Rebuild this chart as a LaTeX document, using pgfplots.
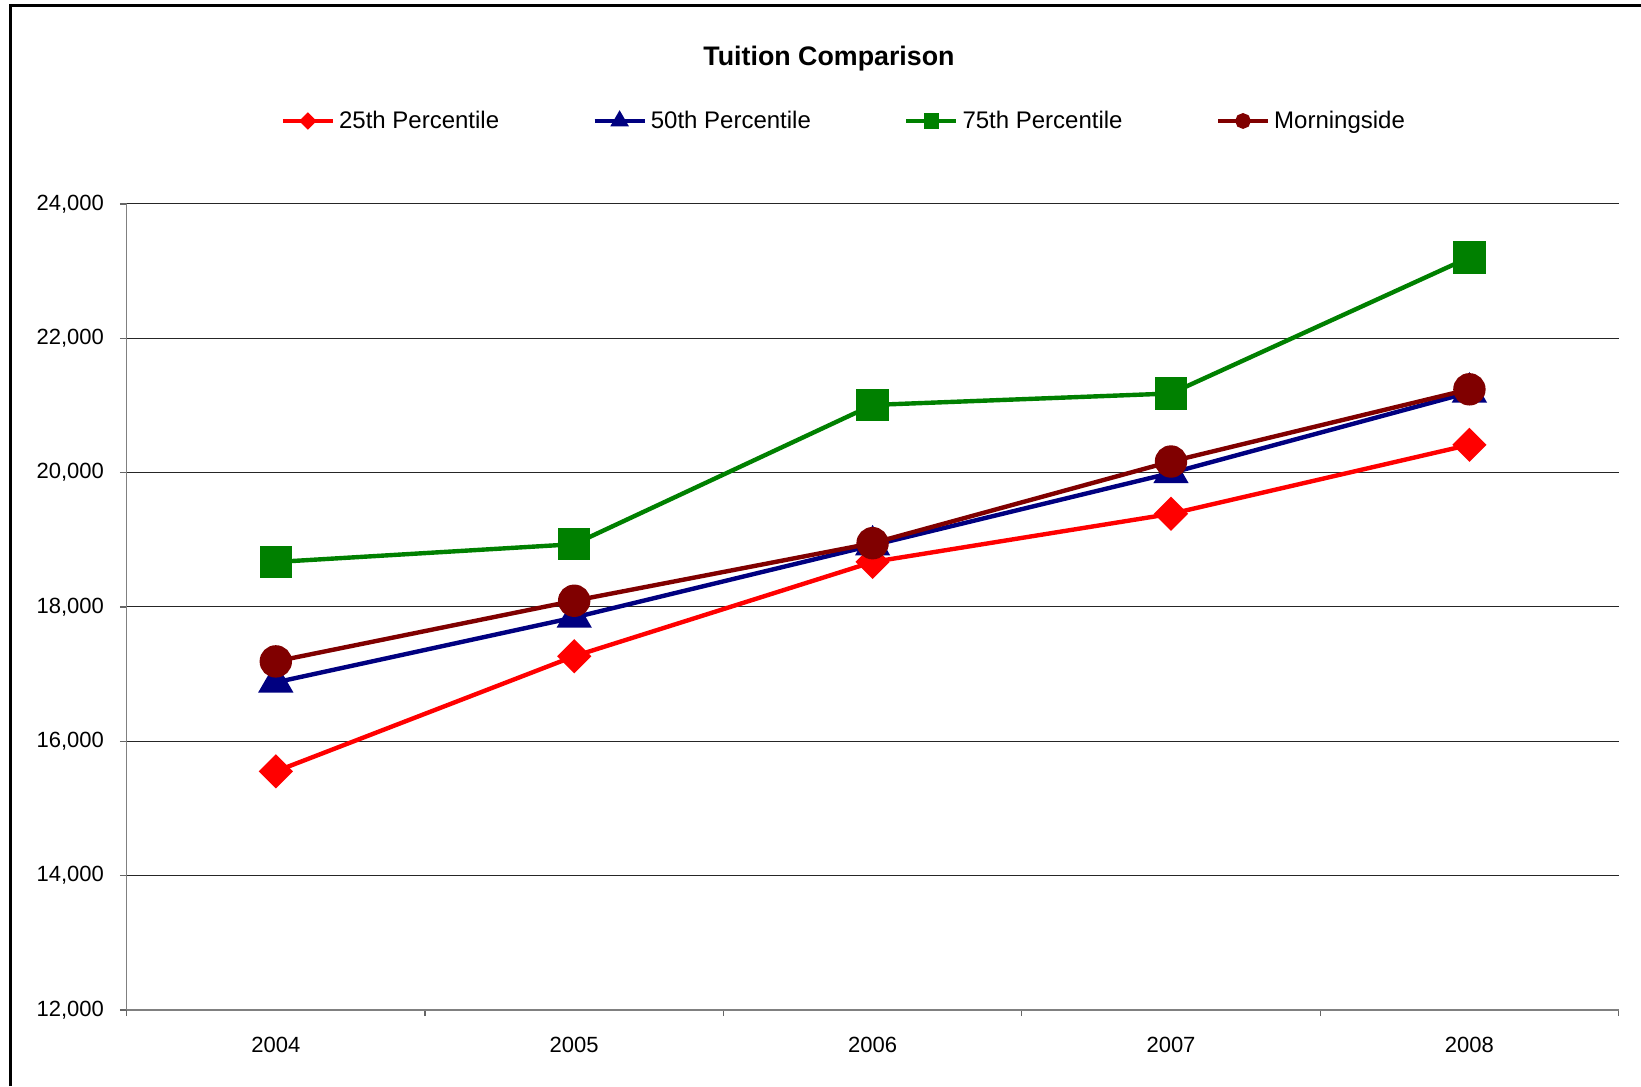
\documentclass[border=0pt]{standalone}
\usepackage{fontspec}
\setmainfont{Liberation Sans}
\usepackage{pgfplots}
\pgfplotsset{compat=1.18}
\definecolor{pRed}{RGB}{255,0,0}
\definecolor{pNavy}{RGB}{0,0,128}
\definecolor{pGreen}{RGB}{0,128,0}
\definecolor{pMaroon}{RGB}{128,0,0}
\begin{document}
\begin{tikzpicture}
\useasboundingbox (0,0) rectangle (820.5pt,543pt);
\draw[line width=1.5pt] (5pt,0) -- (5pt,540.3pt) -- (820.5pt,540.3pt);
\node[font=\bfseries\fontsize{13.4}{15}\selectfont] at (414.5pt,513.7pt) {Tuition Comparison};
\begin{axis}[
  at={(63.3pt,38pt)}, anchor=south west,
  scale only axis, width=746pt, height=403pt,
  xmin=-0.5, xmax=4.5, ymin=12000, ymax=24000,
  ytick={12000,14000,...,24000},
  xtick={0,1,2,3,4},
  xticklabels={2004,2005,2006,2007,2008},
  minor xtick={-0.5,0.5,1.5,2.5,3.5,4.5},
  axis lines*=left,
  axis line style={draw=black!50, line width=0.9pt},
  tick align=outside,
  major tick length=3.3pt, minor tick length=3pt,
  major x tick style={draw=none},
  tick style={black!60, line width=0.6pt},
  ymajorgrids,
  major grid style={black!85, line width=0.5pt},
  scaled y ticks=false,
  /pgf/number format/.cd, 1000 sep={,}, assume math mode=true,
  /pgfplots/.cd,
  ticklabel style={font=\fontsize{11}{13}\selectfont},
  xticklabel shift=6.5pt,
  yticklabel shift=4.5pt,
  clip=false,
  legend columns=4,
  legend style={at={(rel axis cs:0.099,1.103)}, anchor=west, draw=none,
    fill=none, font=\fontsize{12}{14}\selectfont,
    /tikz/every even column/.append style={column sep=44.6pt}},
  legend image code/.code={\draw[mark repeat=2,mark phase=2,#1]
    plot coordinates {(0pt,0pt) (12.5pt,0pt) (25pt,0pt)};},
  legend image post style={every mark/.append style={scale=0.4}},
]
\addplot[pRed, line width=2.2pt, mark=square*, mark size=4.95pt,
  mark options={rotate=45, solid, fill=pRed}]
  coordinates {(0,15553) (1,17267) (2,18670) (3,19387) (4,20415)};
\addlegendentry{25th Percentile}
\addplot[pNavy, line width=2.2pt, mark=triangle*, mark size=8pt,
  mark options={solid, fill=pNavy}]
  coordinates {(0,16878) (1,17844) (2,18919) (3,19995) (4,21195)};
\addlegendentry{50th Percentile}
\addplot[pGreen, line width=2.2pt, mark=square*, mark size=7pt,
  mark options={solid, fill=pGreen}]
  coordinates {(0,18670) (1,18935) (2,21008) (3,21179) (4,23205)};
\addlegendentry{75th Percentile}
\addplot[pMaroon, line width=2.2pt, mark=*, mark size=7pt,
  mark options={solid, fill=pMaroon}]
  coordinates {(0,17190) (1,18093) (2,18950) (3,20166) (4,21241)};
\addlegendentry{Morningside}
\end{axis}
\end{tikzpicture}
\end{document}
